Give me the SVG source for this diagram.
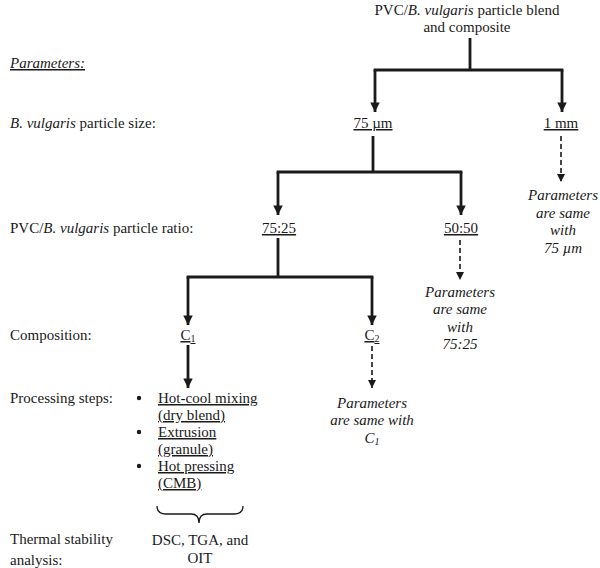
<svg xmlns="http://www.w3.org/2000/svg" width="600" height="568" viewBox="0 0 600 568">
<style>
text{font-family:"Liberation Serif","Times New Roman","DejaVu Serif",serif;font-size:15px;fill:#1a1a1a}
.c{text-anchor:middle}
.i{font-style:italic}
.u{text-decoration:underline}
.solid{stroke:#1a1a1a;stroke-width:2.8;fill:none}
.dash{stroke:#1a1a1a;stroke-width:1.6;fill:none;stroke-dasharray:5 3}
</style>
<defs>
<marker id="ah" viewBox="0 0 10 10" refX="10" refY="5" markerWidth="3.4" markerHeight="3.4" markerUnits="strokeWidth" orient="auto"><path d="M0,0 L10,5 L0,10 z" fill="#1a1a1a"/></marker>
<marker id="ahd" viewBox="0 0 10 10" refX="10" refY="5" markerWidth="5" markerHeight="5" markerUnits="strokeWidth" orient="auto"><path d="M0,0 L10,5 L0,10 z" fill="#1a1a1a"/></marker>
</defs>
<rect width="600" height="568" fill="#fff"/>
<g id="labels">
<text x="10" y="68" class="i u">Parameters:</text>
<text x="10" y="128"><tspan class="i">B. vulgaris</tspan> particle size:</text>
<text x="10" y="233">PVC/<tspan class="i">B. vulgaris</tspan> particle ratio:</text>
<text x="10" y="340">Composition:</text>
<text x="10" y="403">Processing steps:</text>
<text x="10" y="544">Thermal stability</text>
<text x="10" y="565">analysis:</text>
</g>
<g id="root">
<text x="467" y="15" class="c">PVC/<tspan class="i">B. vulgaris</tspan> particle blend</text>
<text x="467" y="32" class="c">and composite</text>
</g>
<g id="size75"><text x="373" y="128" class="c u">75 µm</text></g>
<g id="size1mm"><text x="561" y="128" class="c u">1 mm</text></g>
<g id="note1mm">
<text x="563" y="200" class="c i">Parameters</text>
<text x="563" y="218" class="c i">are same</text>
<text x="563" y="235" class="c i">with</text>
<text x="563" y="253" class="c i">75 µm</text>
</g>
<g id="ratio7525"><text x="279" y="233" class="c u">75:25</text></g>
<g id="ratio5050"><text x="461" y="233" class="c u">50:50</text></g>
<g id="note5050">
<text x="460" y="297" class="c i">Parameters</text>
<text x="460" y="314" class="c i">are same</text>
<text x="460" y="332" class="c i">with</text>
<text x="460" y="349" class="c i">75:25</text>
</g>
<g id="c1"><text x="188" y="340" class="c u">C<tspan font-size="10" dy="2">1</tspan></text></g>
<g id="c2"><text x="372" y="340" class="c u">C<tspan font-size="10" dy="2">2</tspan></text></g>
<g id="steps">
<circle cx="139" cy="398" r="2.2" fill="#1a1a1a"/>
<circle cx="139" cy="432" r="2.2" fill="#1a1a1a"/>
<circle cx="139" cy="466" r="2.2" fill="#1a1a1a"/>
<text x="158" y="403" class="u">Hot-cool mixing</text>
<text x="158" y="420" class="u">(dry blend)</text>
<text x="158" y="437" class="u">Extrusion</text>
<text x="158" y="454" class="u">(granule)</text>
<text x="158" y="471" class="u">Hot pressing</text>
<text x="158" y="488" class="u">(CMB)</text>
</g>
<g id="noteC2">
<text x="372" y="408" class="c i">Parameters</text>
<text x="372" y="425" class="c i">are same with</text>
<text x="372" y="443" class="c i">C<tspan font-size="10" dy="2">1</tspan></text>
</g>
<g id="analysis">
<path d="M157,506 Q157,514 166,514 L191,514 Q199,514 199,523 Q199,514 207,514 L234,514 Q243,514 243,506" fill="none" stroke="#1a1a1a" stroke-width="1.3"/>
<text x="200" y="545" class="c">DSC, TGA, and</text>
<text x="200" y="563" class="c">OIT</text>
</g>
<g id="connectors">
<path class="solid" d="M470,38 V70 M373.6,70 H563.4"/>
<path class="solid" d="M375,70 V112" marker-end="url(#ah)"/>
<path class="solid" d="M562,70 V112" marker-end="url(#ah)"/>
<path class="solid" d="M373,136 V172 M276.6,172 H462.4"/>
<path class="solid" d="M278,172 V215" marker-end="url(#ah)"/>
<path class="solid" d="M461,172 V215" marker-end="url(#ah)"/>
<path class="dash" d="M561,136 V182" marker-end="url(#ahd)"/>
<path class="solid" d="M278,238 V277 M186.6,277 H373.4"/>
<path class="solid" d="M188,277 V325" marker-end="url(#ah)"/>
<path class="solid" d="M372,277 V325" marker-end="url(#ah)"/>
<path class="dash" d="M460,240 V280" marker-end="url(#ahd)"/>
<path class="solid" d="M188,345 V388" marker-end="url(#ah)"/>
<path class="dash" d="M372,346 V388" marker-end="url(#ahd)"/>
</g>
</svg>
